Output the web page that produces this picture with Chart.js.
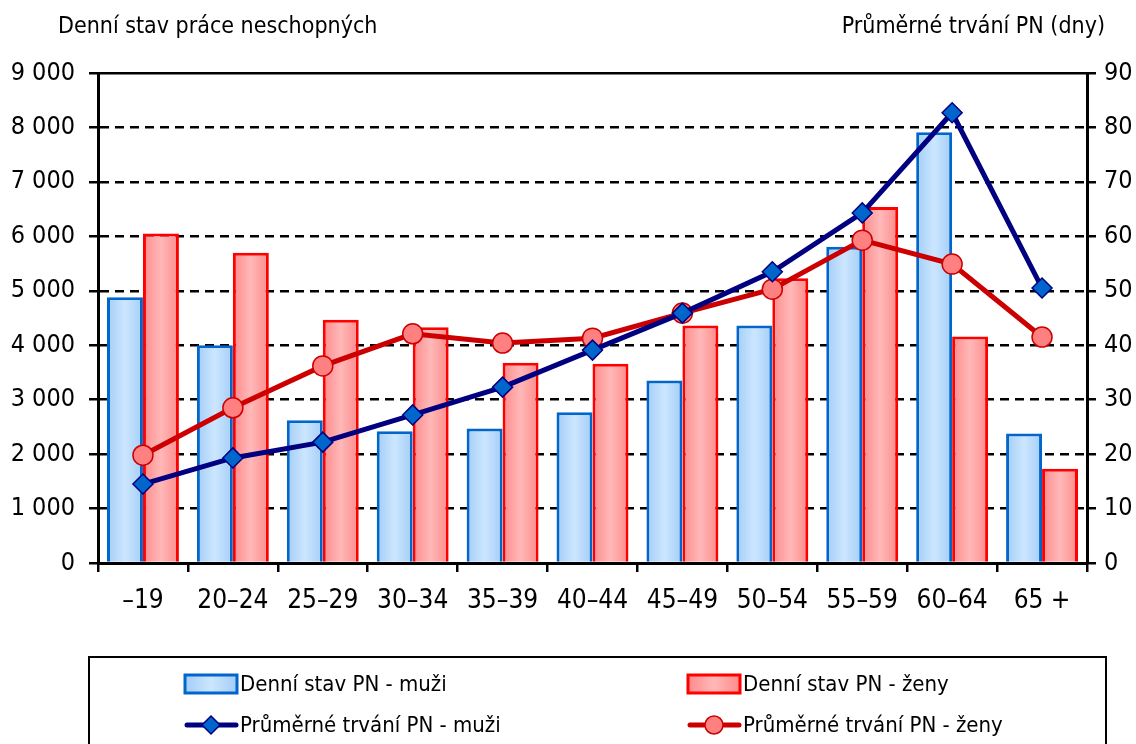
<!DOCTYPE html>
<html>
<head>
<meta charset="utf-8">
<script src="https://cdn.jsdelivr.net/npm/chart.js@4/dist/chart.umd.min.js"></script>
<style>
  html, body { margin: 0; padding: 0; background: #fff; }
  #wrap { position: relative; width: 1136px; height: 744px; overflow: hidden; }
  #legend {
    position: absolute; left: 88px; top: 656px; width: 1019px; height: 100px;
    border: 2px solid #000; box-sizing: border-box;
    font-family: 'Liberation Sans Narrow', 'Arial Narrow', 'DejaVu Sans Condensed', sans-serif;
    font-size: 22px; color: #000;
  }
  .item { position: absolute; height: 26px; line-height: 26px; white-space: nowrap; }
  .sym { position: absolute; left: 0; top: 0; width: 56px; height: 26px; }
  .txt { position: absolute; left: 57px; top: 0; }
</style>
</head>
<body>
<div id="wrap">
  <canvas id="c" width="1136" height="744"></canvas>
  <div id="legend"></div>
</div>
<script>
// kategorie věku a hodnoty
var categories = ['\u201319', '20\u201324', '25\u201329', '30\u201334', '35\u201339', '40\u201344',
                  '45\u201349', '50\u201354', '55\u201359', '60\u201364', '65 +'];
var stavMuzi  = [4880, 4000, 2620, 2420, 2470, 2770, 3350, 4360, 5810, 7910, 2380];
var stavZeny  = [6050, 5700, 4470, 4330, 3680, 3660, 4360, 5230, 6540, 4160, 1730];
var trvaniMuzi = [14.5, 19.3, 22.2, 27.2, 32.3, 39.1, 45.9, 53.5, 64.3, 82.7, 50.5];
var trvaniZeny = [19.8, 28.5, 36.2, 42.1, 40.4, 41.3, 45.9, 50.3, 59.3, 54.9, 41.5];
var leftTicks = [0, 1000, 2000, 3000, 4000, 5000, 6000, 7000, 8000, 9000];
var rightTicks = [0, 10, 20, 30, 40, 50, 60, 70, 80, 90];

var labels = {
  left: 'Denn\u00ed stav pr\u00e1ce neschopn\u00fdch',
  right: 'Pr\u016fm\u011brn\u00e9 trv\u00e1n\u00ed PN (dny)',
  s1: 'Denn\u00ed stav PN - mu\u017ei',
  s2: 'Denn\u00ed stav PN - \u017eeny',
  s3: 'Pr\u016fm\u011brn\u00e9 trv\u00e1n\u00ed PN - mu\u017ei',
  s4: 'Pr\u016fm\u011brn\u00e9 trv\u00e1n\u00ed PN - \u017eeny'
};

var FONT = "'Liberation Sans Narrow', 'Arial Narrow', 'DejaVu Sans Condensed', sans-serif";
Chart.defaults.font.family = FONT;
Chart.defaults.color = '#000';

function fmt(v) {
  return String(v).replace(/\B(?=(\d{3})+(?!\d))/g, ' ');
}

// horizontal gradient across each bar
function barGradient(edge, mid, side) {
  return function(context) {
    var chart = context.chart;
    if (!chart.chartArea || context.type !== 'data') return mid;
    var x = chart.scales.x;
    var cw = x.width / categories.length;
    var bw = cw * 0.8 / 2;
    var cx = x.getPixelForValue(context.dataIndex);
    var x0 = side < 0 ? cx - bw : cx;
    var g = chart.ctx.createLinearGradient(x0, 0, x0 + bw, 0);
    g.addColorStop(0, edge);
    g.addColorStop(0.5, mid);
    g.addColorStop(1, edge);
    return g;
  };
}

var titlesPlugin = {
  id: 'titles',
  afterDraw: function(chart) {
    var ctx = chart.ctx;
    ctx.save();
    ctx.fillStyle = '#000';
    ctx.font = '23px ' + FONT;
    ctx.textBaseline = 'alphabetic';
    ctx.textAlign = 'left';
    ctx.fillText(labels.left, 58, 33);
    ctx.textAlign = 'right';
    ctx.fillText(labels.right, 1105, 33);
    ctx.restore();
  }
};

new Chart(document.getElementById('c'), {
  type: 'bar',
  data: {
    labels: categories,
    datasets: [
      {
        type: 'line', label: labels.s3, data: trvaniMuzi, yAxisID: 'y2', order: 0,
        borderColor: '#000080', borderWidth: 5, pointStyle: 'rectRot', pointRadius: 10,
        pointBackgroundColor: '#0066cc', pointBorderColor: '#000080', pointBorderWidth: 1.5,
        tension: 0
      },
      {
        type: 'line', label: labels.s4, data: trvaniZeny, yAxisID: 'y2', order: 0,
        borderColor: '#cc0000', borderWidth: 5, pointStyle: 'circle', pointRadius: 10,
        pointBackgroundColor: '#ff8080', pointBorderColor: '#cc0000', pointBorderWidth: 1.5,
        tension: 0
      },
      {
        label: labels.s1, data: stavMuzi, yAxisID: 'y', order: 1,
        backgroundColor: barGradient('#a3cdf7', '#cce6ff', -1),
        borderColor: '#0066cc', borderWidth: 3, borderSkipped: 'bottom',
        categoryPercentage: 0.8, barPercentage: 1.0
      },
      {
        label: labels.s2, data: stavZeny, yAxisID: 'y', order: 1,
        backgroundColor: barGradient('#ff8a8a', '#ffb8b8', 1),
        borderColor: '#ff0000', borderWidth: 3, borderSkipped: 'bottom',
        categoryPercentage: 0.8, barPercentage: 1.0
      }
    ]
  },
  options: {
    responsive: false,
    animation: false,
    layout: { padding: { top: 73, left: 0, right: 0, bottom: 0 } },
    plugins: { legend: { display: false }, tooltip: { enabled: false } },
    scales: {
      x: {
        grid: { offset: true, drawOnChartArea: false, drawTicks: true, tickLength: 9,
                color: '#000', lineWidth: 2.5 },
        border: { color: '#000', width: 3 },
        ticks: { font: { size: 26 }, padding: 14 },
        afterFit: function(s) { s.height = 744 - 563; }
      },
      y: {
        position: 'left', min: 0, max: 9000,
        afterBuildTicks: function(s) { s.ticks = leftTicks.map(function(v) { return { value: v }; }); },
        ticks: { font: { size: 25 }, padding: 14, callback: function(v) { return fmt(v); } },
        grid: { color: '#000', lineWidth: 2.5, tickLength: 9, tickBorderDash: [], tickWidth: 2.5 },
        border: { color: '#000', width: 3,
                  dash: function(c) { return (c.tick && (c.tick.value === 9000 || c.tick.value === 0)) ? [] : [9, 6]; } },
        afterFit: function(s) { s.width = 98; }
      },
      y2: {
        position: 'right', min: 0, max: 90,
        afterBuildTicks: function(s) { s.ticks = rightTicks.map(function(v) { return { value: v }; }); },
        ticks: { font: { size: 25 }, padding: 8 },
        grid: { drawOnChartArea: false, color: '#000', lineWidth: 2.5, tickLength: 9 },
        border: { color: '#000', width: 3 },
        afterFit: function(s) { s.width = 1136 - 1087; }
      }
    }
  },
  plugins: [titlesPlugin]
});

// legenda
var legendItems = [
  { text: labels.s1, kind: 'bar', edge: '#a3cdf7', mid: '#cce6ff', border: '#0066cc', x: 93, y: 13 },
  { text: labels.s2, kind: 'bar', edge: '#ff8a8a', mid: '#ffb8b8', border: '#ff0000', x: 596, y: 13 },
  { text: labels.s3, kind: 'line', line: '#000080', fill: '#0066cc', marker: 'diamond', x: 93, y: 54 },
  { text: labels.s4, kind: 'line', line: '#cc0000', fill: '#ff8080', marker: 'circle', x: 596, y: 54 }
];
var lg = document.getElementById('legend');
legendItems.forEach(function(it) {
  var d = document.createElement('div');
  d.className = 'item';
  d.style.left = it.x + 'px';
  d.style.top = it.y + 'px';
  var cv = document.createElement('canvas');
  cv.className = 'sym';
  cv.width = 56; cv.height = 26;
  var c = cv.getContext('2d');
  if (it.kind === 'bar') {
    var g = c.createLinearGradient(2, 0, 54, 0);
    g.addColorStop(0, it.edge); g.addColorStop(0.5, it.mid); g.addColorStop(1, it.edge);
    c.fillStyle = g;
    c.fillRect(2, 4, 52, 18);
    c.strokeStyle = it.border; c.lineWidth = 3;
    c.strokeRect(2, 4, 52, 18);
  } else {
    c.strokeStyle = it.line; c.lineWidth = 5; c.lineCap = 'round';
    c.beginPath(); c.moveTo(4, 13); c.lineTo(53, 13); c.stroke();
    c.fillStyle = it.fill; c.strokeStyle = it.line; c.lineWidth = 1.5;
    c.beginPath();
    if (it.marker === 'diamond') {
      c.moveTo(28, 4); c.lineTo(37, 13); c.lineTo(28, 22); c.lineTo(19, 13); c.closePath();
    } else {
      c.arc(28, 13, 9, 0, Math.PI * 2);
    }
    c.fill(); c.stroke();
  }
  d.appendChild(cv);
  var t = document.createElement('span');
  t.className = 'txt';
  t.textContent = it.text;
  d.appendChild(t);
  lg.appendChild(d);
});
</script>
</body>
</html>
